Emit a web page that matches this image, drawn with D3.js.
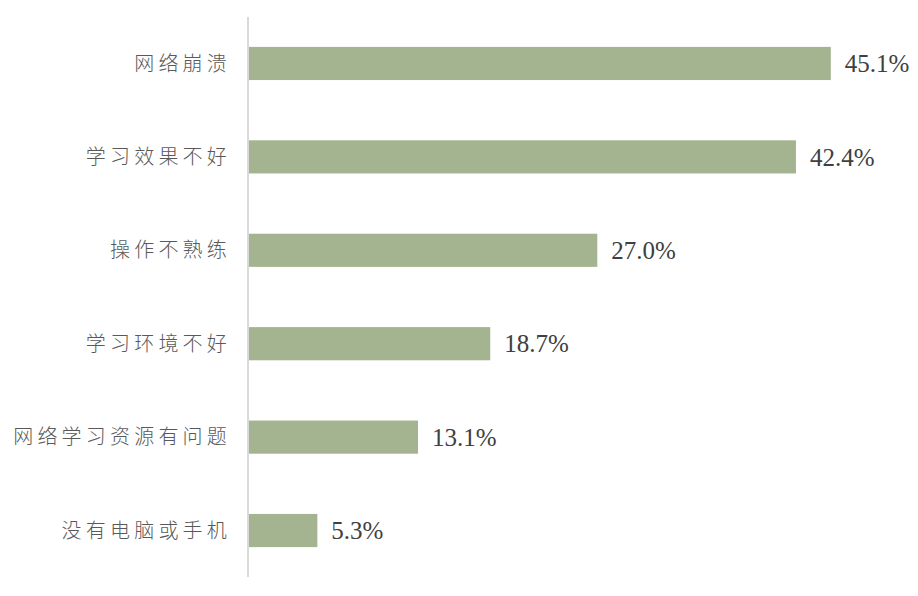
<!doctype html>
<html>

<head>
    <meta charset="utf-8">
    <style>
        body {
            margin: 0;
            background: #fff;
        }

        .bar {
            fill: #a4b490;
        }

        .axis-line {
            stroke: #d9d9d9;
            stroke-width: 2px;
        }

        .cat text {
            font-family: "Noto Sans CJK SC", sans-serif;
            font-size: 20px;
            font-weight: 300;
            letter-spacing: 4.2px;
            fill: #595959;
            text-anchor: end;
        }

        .val {
            font-family: "Liberation Serif", serif;
            font-size: 25px;
            fill: #404040;
        }
    </style>
    <script src="https://d3js.org/d3.v7.min.js"></script>
</head>

<body>
    <script>
        // data
        const categories = ["网络崩溃", "学习效果不好", "操作不熟练", "学习环境不好", "网络学习资源有问题", "没有电脑或手机"]
        const values = [45.1, 42.4, 27.0, 18.7, 13.1, 5.3]

        const width = 918
        const height = 596

        const svg = d3.select("body").append("svg")
            .attr("width", width)
            .attr("height", height)

        const x = d3.scaleLinear()
            .domain([0, 50])
            .range([249, 894])

        const y = d3.scaleBand()
            .domain(categories)
            .range([17, 577])
            .paddingInner(0.645)
            .paddingOuter(0.32)

        const data = categories.map((c, i) => ({ cat: c, val: values[i] }))

        //bars
        svg.append("g")
            .selectAll("rect")
            .data(data)
            .enter()
            .append("rect")
            .attr("class", "bar")
            .attr("x", x(0))
            .attr("y", d => y(d.cat))
            .attr("width", d => x(d.val) - x(0))
            .attr("height", y.bandwidth())

        //vertical axis line
        svg.append("line")
            .attr("class", "axis-line")
            .attr("x1", x(0) - 1)
            .attr("x2", x(0) - 1)
            .attr("y1", y.range()[0])
            .attr("y2", y.range()[1])

        //category labels
        svg.append("g")
            .attr("class", "cat")
            .selectAll("text")
            .data(data)
            .enter()
            .append("text")
            .attr("x", 231)
            .attr("y", d => y(d.cat) + y.bandwidth() / 2)
            .attr("dy", "0.36em")
            .text(d => d.cat)

        //value labels
        svg.append("g")
            .selectAll("text")
            .data(data)
            .enter()
            .append("text")
            .attr("class", "val")
            .attr("x", d => x(d.val) + 14)
            .attr("y", d => y(d.cat) + y.bandwidth() / 2)
            .attr("dy", "0.35em")
            .text(d => d.val.toFixed(1) + "%")
    </script>
</body>

</html>
